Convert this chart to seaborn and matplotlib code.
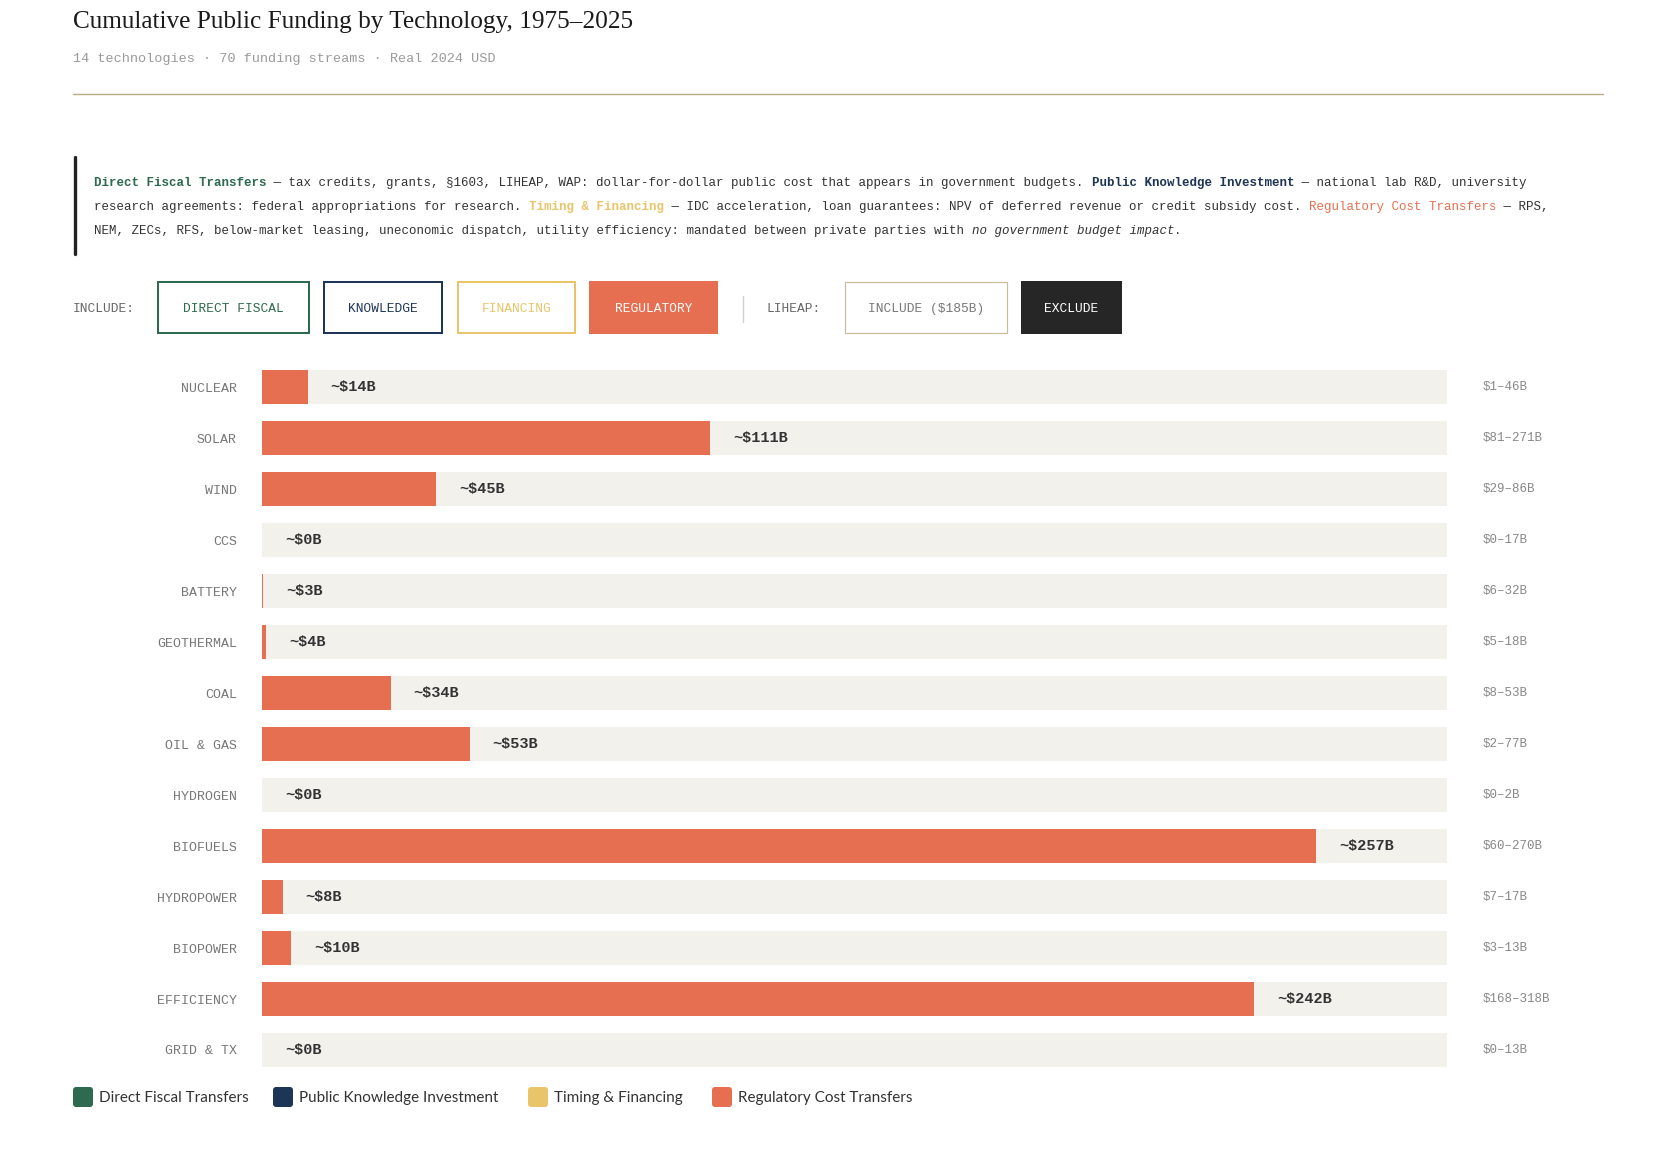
import matplotlib.pyplot as plt
import matplotlib.patches as mpatches
from matplotlib.lines import Line2D
from matplotlib.transforms import IdentityTransform
import pandas as pd
import seaborn as sns

# Data
techs = ['NUCLEAR', 'SOLAR', 'WIND', 'CCS', 'BATTERY', 'GEOTHERMAL', 'COAL',
         'OIL & GAS', 'HYDROGEN', 'BIOFUELS', 'HYDROPOWER', 'BIOPOWER',
         'EFFICIENCY', 'GRID & TX']
# regulatory bar lengths as drawn ($B) and the printed estimates
reg_bar = [11, 108, 42, 0, 0.3, 1, 31, 50, 0, 254, 5, 7, 239, 0]
reg_label = [14, 111, 45, 0, 3, 4, 34, 53, 0, 257, 8, 10, 242, 0]
range_lo = [1, 81, 29, 0, 6, 5, 8, 2, 0, 60, 7, 3, 168, 0]
range_hi = [46, 271, 86, 17, 32, 18, 53, 77, 2, 270, 17, 13, 318, 13]
scale_max = 285.5

legend_names = ['Direct Fiscal Transfers', 'Public Knowledge Investment',
                'Timing & Financing', 'Regulatory Cost Transfers']

GREEN = '#2d6a4f'
NAVY = '#1d3557'
GOLD = '#e9c46a'
CORAL = '#e76f51'
TRACK = '#f3f1ec'
DARK = '#262626'
legend_colors = [GREEN, NAVY, GOLD, CORAL]

W, H = 1657, 1165
MONO = 'Liberation Mono'

sns.set_theme(style='white')
plt.rcParams['font.family'] = ['DejaVu Sans']

fig = plt.figure(figsize=(W / 100, H / 100), dpi=100)
fig.patch.set_facecolor('white')


def fx(x):
    return x / W


def fy(y):
    return 1 - y / H


def txt(x, y, s, size, **kw):
    # y is the baseline in pixels from the top
    return fig.text(fx(x), fy(y), s, fontsize=size, va='baseline', **kw)


# Header
txt(73, 28, 'Cumulative Public Funding by Technology, 1975–2025', 18.2,
    family='Liberation Serif', color='#1a1a1a')
txt(73, 62, '14 technologies · 70 funding streams · Real 2024 USD', 9.7,
    family=MONO, color='#9a9a9a')
fig.add_artist(Line2D([fx(73), fx(1603)], [fy(94), fy(94)], color='#b8ad85', lw=1))

# Blockquote
fig.add_artist(Line2D([fx(75), fx(75)], [fy(157), fy(254)], color='#222222',
                      lw=2.4, solid_capstyle='round'))
plain = dict(color='#333333')
lines = [
    [('Direct Fiscal Transfers', dict(color=GREEN, fontweight='bold')),
     (' — tax credits, grants, §1603, LIHEAP, WAP: dollar-for-dollar public cost that appears in government budgets. ', plain),
     ('Public Knowledge Investment', dict(color=NAVY, fontweight='bold')),
     (' — national lab R&D, university', plain)],
    [('research agreements: federal appropriations for research. ', plain),
     ('Timing & Financing', dict(color=GOLD, fontweight='bold')),
     (' — IDC acceleration, loan guarantees: NPV of deferred revenue or credit subsidy cost. ', plain),
     ('Regulatory Cost Transfers', dict(color=CORAL)),
     (' — RPS,', plain)],
    [('NEM, ZECs, RFS, below-market leasing, uneconomic dispatch, utility efficiency: mandated between private parties with ', plain),
     ('no government budget impact', dict(color='#333333', fontstyle='italic')),
     ('.', plain)],
]
cw = 7.5
for row, segs in enumerate(lines):
    n = 0
    for s, st in segs:
        txt(94 + n * cw, 186 + row * 24, s, 9.0, family=MONO, **st)
        n += len(s)


# Filter buttons
def button(x0, x1, label, edge, fill, tc, lw=2):
    fig.add_artist(mpatches.Rectangle((x0 + lw / 2, H - 334 + lw / 2), x1 - x0 - lw, 53 - lw,
                                      transform=IdentityTransform(), facecolor=fill,
                                      edgecolor=edge, lw=lw * 0.72))
    fig.text(fx((x0 + x1) / 2), fy(312), label, fontsize=9.3, family=MONO, color=tc,
             ha='center', va='baseline')


txt(73, 312, 'INCLUDE:', 9.3, family=MONO, color='#666666')
button(157, 310, 'DIRECT FISCAL', GREEN, 'white', GREEN)
button(323, 443, 'KNOWLEDGE', NAVY, 'white', NAVY)
button(457, 576, 'FINANCING', GOLD, 'white', GOLD)
button(589, 718, 'REGULATORY', CORAL, CORAL, 'white')
fig.add_artist(Line2D([fx(743), fx(743)], [fy(296), fy(322)], color='#d0d0d0', lw=1))
txt(766, 312, 'LIHEAP:', 9.3, family=MONO, color='#666666')
button(844, 1008, 'INCLUDE ($185B)', '#c8bc98', 'white', '#777777', lw=1.2)
button(1021, 1122, 'EXCLUDE', DARK, DARK, 'white')

# Bars
df = pd.DataFrame({'tech': techs, 'value': reg_bar})
df['track'] = scale_max

ax = fig.add_axes([fx(262), 1 - 1075.5 / H, 1185 / W, 714 / H])
sns.barplot(data=df, x='track', y='tech', color=TRACK, width=0.65, saturation=1,
            linewidth=0, orient='h', ax=ax)
sns.barplot(data=df, x='value', y='tech', color=CORAL, width=0.65, saturation=1,
            linewidth=0, orient='h', ax=ax)
ax.set_xlim(0, scale_max)
ax.set_ylim(13.5, -0.5)
ax.set_facecolor('none')
sns.despine(ax=ax, left=True, bottom=True)
ax.set_xticks([])
ax.set_xlabel('')
ax.set_ylabel('')
ax.tick_params(axis='y', length=0, pad=18, labelsize=9.5, labelcolor='#777777')
for lbl in ax.get_yticklabels():
    lbl.set_fontfamily(MONO)

for i, (v, lab) in enumerate(zip(reg_bar, reg_label)):
    ax.annotate(f'~${lab}B', xy=(v, i), xytext=(16.5, 0), textcoords='offset points',
                ha='left', va='center', fontsize=11, fontweight='bold', family=MONO,
                color='#333333')
    ax.text(1 + 36 / 1185, i, f'${range_lo[i]}–{range_hi[i]}B', transform=ax.get_yaxis_transform(),
            ha='left', va='center', fontsize=9, family=MONO, color='#888888')

# Legend
leg_x = [73, 273, 528, 712]
for x, name, col in zip(leg_x, legend_names, legend_colors):
    fig.add_artist(mpatches.FancyBboxPatch((x, H - 1107), 20, 20,
                                           boxstyle='round,pad=0,rounding_size=3',
                                           transform=IdentityTransform(), facecolor=col,
                                           edgecolor='none'))
    txt(x + 26, 1102, name, 11.0, family='Lato', color='#333333')

fig.savefig('out.png', dpi=100, facecolor='white')
